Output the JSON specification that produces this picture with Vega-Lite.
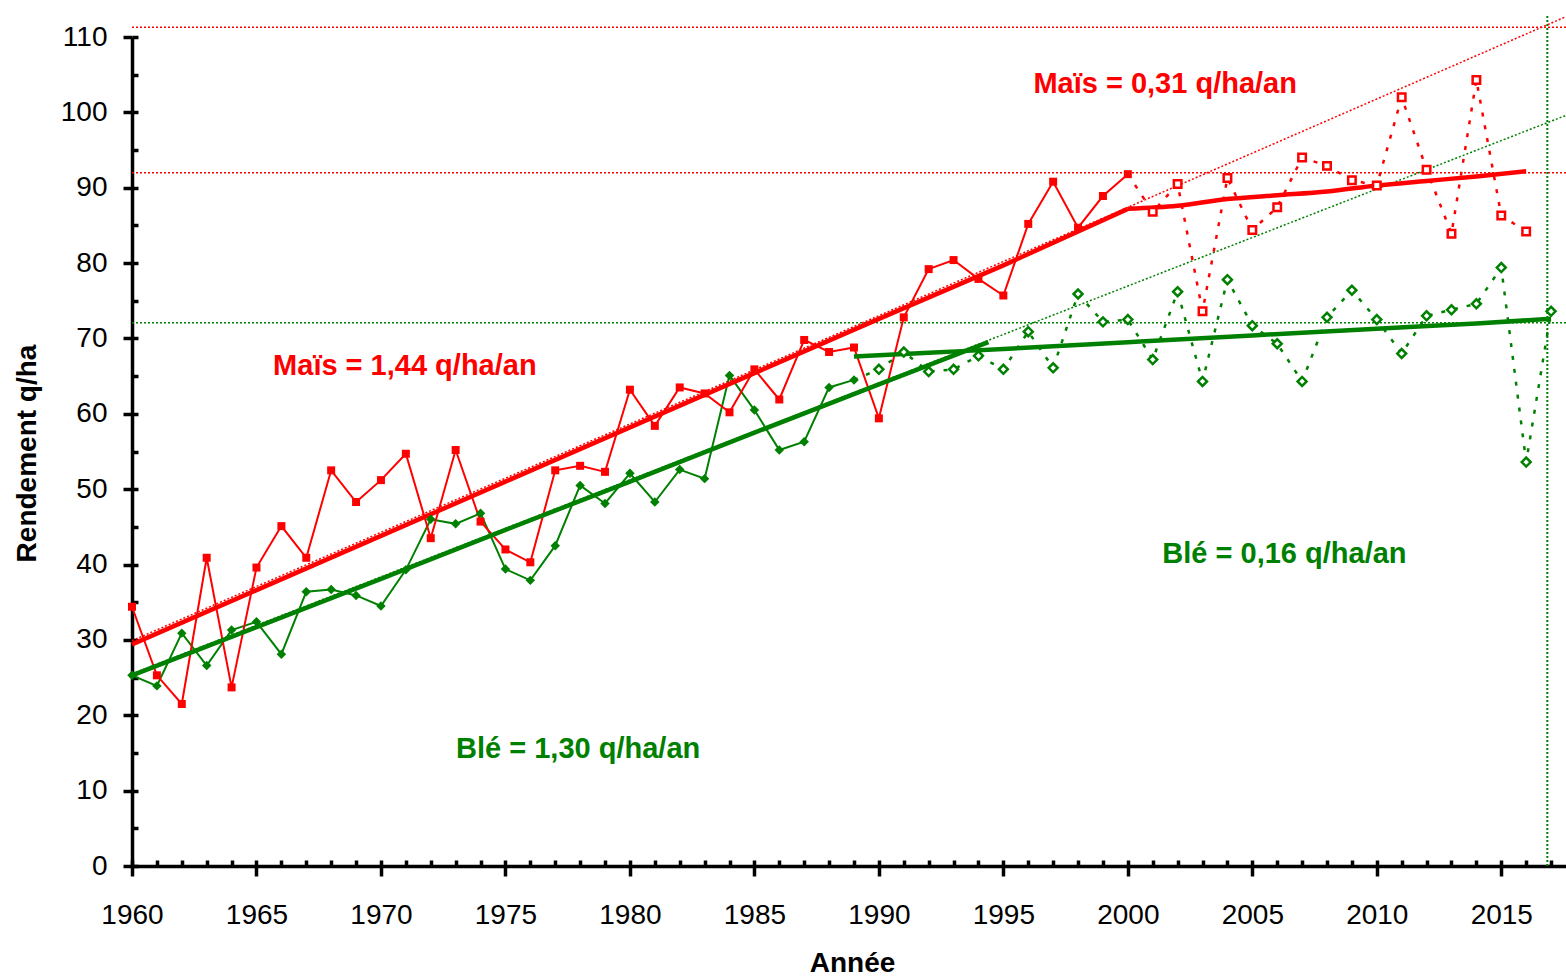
{
  "$schema": "https://vega.github.io/schema/vega-lite/v6.json",
  "width": 1434,
  "height": 829,
  "autosize": {"type": "none"},
  "padding": {"left": 132, "top": 37, "right": 0, "bottom": 111},
  "background": "white",
  "config": {"view": {"stroke": null}, "font": "Liberation Sans"},
  "datasets": {
    "obs": [
      {"crop": "Maïs", "year": 1960, "value": 34.4}, {"crop": "Maïs", "year": 1961, "value": 25.3},
      {"crop": "Maïs", "year": 1962, "value": 21.5}, {"crop": "Maïs", "year": 1963, "value": 40.9},
      {"crop": "Maïs", "year": 1964, "value": 23.7}, {"crop": "Maïs", "year": 1965, "value": 39.6},
      {"crop": "Maïs", "year": 1966, "value": 45.1}, {"crop": "Maïs", "year": 1967, "value": 40.9},
      {"crop": "Maïs", "year": 1968, "value": 52.5}, {"crop": "Maïs", "year": 1969, "value": 48.3},
      {"crop": "Maïs", "year": 1970, "value": 51.2}, {"crop": "Maïs", "year": 1971, "value": 54.7},
      {"crop": "Maïs", "year": 1972, "value": 43.5}, {"crop": "Maïs", "year": 1973, "value": 55.2},
      {"crop": "Maïs", "year": 1974, "value": 45.7}, {"crop": "Maïs", "year": 1975, "value": 42.0},
      {"crop": "Maïs", "year": 1976, "value": 40.3}, {"crop": "Maïs", "year": 1977, "value": 52.5},
      {"crop": "Maïs", "year": 1978, "value": 53.1}, {"crop": "Maïs", "year": 1979, "value": 52.3},
      {"crop": "Maïs", "year": 1980, "value": 63.2}, {"crop": "Maïs", "year": 1981, "value": 58.4},
      {"crop": "Maïs", "year": 1982, "value": 63.5}, {"crop": "Maïs", "year": 1983, "value": 62.7},
      {"crop": "Maïs", "year": 1984, "value": 60.2}, {"crop": "Maïs", "year": 1985, "value": 65.9},
      {"crop": "Maïs", "year": 1986, "value": 61.9}, {"crop": "Maïs", "year": 1987, "value": 69.8},
      {"crop": "Maïs", "year": 1988, "value": 68.2}, {"crop": "Maïs", "year": 1989, "value": 68.8},
      {"crop": "Maïs", "year": 1990, "value": 59.4}, {"crop": "Maïs", "year": 1991, "value": 72.8},
      {"crop": "Maïs", "year": 1992, "value": 79.2}, {"crop": "Maïs", "year": 1993, "value": 80.4},
      {"crop": "Maïs", "year": 1994, "value": 77.9}, {"crop": "Maïs", "year": 1995, "value": 75.7},
      {"crop": "Maïs", "year": 1996, "value": 85.2}, {"crop": "Maïs", "year": 1997, "value": 90.8},
      {"crop": "Maïs", "year": 1998, "value": 84.7}, {"crop": "Maïs", "year": 1999, "value": 88.9},
      {"crop": "Maïs", "year": 2000, "value": 91.8}, {"crop": "Maïs", "year": 2001, "value": 86.8},
      {"crop": "Maïs", "year": 2002, "value": 90.5}, {"crop": "Maïs", "year": 2003, "value": 73.6},
      {"crop": "Maïs", "year": 2004, "value": 91.3}, {"crop": "Maïs", "year": 2005, "value": 84.4},
      {"crop": "Maïs", "year": 2006, "value": 87.4}, {"crop": "Maïs", "year": 2007, "value": 94.0},
      {"crop": "Maïs", "year": 2008, "value": 92.9}, {"crop": "Maïs", "year": 2009, "value": 91.0},
      {"crop": "Maïs", "year": 2010, "value": 90.3}, {"crop": "Maïs", "year": 2011, "value": 102.0},
      {"crop": "Maïs", "year": 2012, "value": 92.4}, {"crop": "Maïs", "year": 2013, "value": 83.9},
      {"crop": "Maïs", "year": 2014, "value": 104.3}, {"crop": "Maïs", "year": 2015, "value": 86.3},
      {"crop": "Maïs", "year": 2016, "value": 84.2},
      {"crop": "Blé", "year": 1960, "value": 25.3}, {"crop": "Blé", "year": 1961, "value": 23.9},
      {"crop": "Blé", "year": 1962, "value": 30.9}, {"crop": "Blé", "year": 1963, "value": 26.6},
      {"crop": "Blé", "year": 1964, "value": 31.3}, {"crop": "Blé", "year": 1965, "value": 32.4},
      {"crop": "Blé", "year": 1966, "value": 28.1}, {"crop": "Blé", "year": 1967, "value": 36.4},
      {"crop": "Blé", "year": 1968, "value": 36.7}, {"crop": "Blé", "year": 1969, "value": 35.9},
      {"crop": "Blé", "year": 1970, "value": 34.5}, {"crop": "Blé", "year": 1971, "value": 39.3},
      {"crop": "Blé", "year": 1972, "value": 46.0}, {"crop": "Blé", "year": 1973, "value": 45.4},
      {"crop": "Blé", "year": 1974, "value": 46.8}, {"crop": "Blé", "year": 1975, "value": 39.4},
      {"crop": "Blé", "year": 1976, "value": 37.9}, {"crop": "Blé", "year": 1977, "value": 42.5},
      {"crop": "Blé", "year": 1978, "value": 50.5}, {"crop": "Blé", "year": 1979, "value": 48.1},
      {"crop": "Blé", "year": 1980, "value": 52.1}, {"crop": "Blé", "year": 1981, "value": 48.3},
      {"crop": "Blé", "year": 1982, "value": 52.6}, {"crop": "Blé", "year": 1983, "value": 51.4},
      {"crop": "Blé", "year": 1984, "value": 65.1}, {"crop": "Blé", "year": 1985, "value": 60.5},
      {"crop": "Blé", "year": 1986, "value": 55.2}, {"crop": "Blé", "year": 1987, "value": 56.3},
      {"crop": "Blé", "year": 1988, "value": 63.5}, {"crop": "Blé", "year": 1989, "value": 64.5},
      {"crop": "Blé", "year": 1990, "value": 65.9}, {"crop": "Blé", "year": 1991, "value": 68.2},
      {"crop": "Blé", "year": 1992, "value": 65.6}, {"crop": "Blé", "year": 1993, "value": 65.9},
      {"crop": "Blé", "year": 1994, "value": 67.7}, {"crop": "Blé", "year": 1995, "value": 65.9},
      {"crop": "Blé", "year": 1996, "value": 70.9}, {"crop": "Blé", "year": 1997, "value": 66.1},
      {"crop": "Blé", "year": 1998, "value": 75.9}, {"crop": "Blé", "year": 1999, "value": 72.2},
      {"crop": "Blé", "year": 2000, "value": 72.5}, {"crop": "Blé", "year": 2001, "value": 67.2},
      {"crop": "Blé", "year": 2002, "value": 76.2}, {"crop": "Blé", "year": 2003, "value": 64.3},
      {"crop": "Blé", "year": 2004, "value": 77.8}, {"crop": "Blé", "year": 2005, "value": 71.7},
      {"crop": "Blé", "year": 2006, "value": 69.3}, {"crop": "Blé", "year": 2007, "value": 64.3},
      {"crop": "Blé", "year": 2008, "value": 72.8}, {"crop": "Blé", "year": 2009, "value": 76.4},
      {"crop": "Blé", "year": 2010, "value": 72.5}, {"crop": "Blé", "year": 2011, "value": 68.0},
      {"crop": "Blé", "year": 2012, "value": 73.0}, {"crop": "Blé", "year": 2013, "value": 73.8},
      {"crop": "Blé", "year": 2014, "value": 74.6}, {"crop": "Blé", "year": 2015, "value": 79.4},
      {"crop": "Blé", "year": 2016, "value": 53.6}, {"crop": "Blé", "year": 2017, "value": 73.6}
    ],
    "trends": [
      {"line": "m1", "year": 1960, "value": 29.4}, {"line": "m1", "year": 1965, "value": 36.6},
      {"line": "m1", "year": 1970, "value": 43.8}, {"line": "m1", "year": 1975, "value": 51.0},
      {"line": "m1", "year": 1980, "value": 58.2}, {"line": "m1", "year": 1985, "value": 65.4},
      {"line": "m1", "year": 1990, "value": 72.6}, {"line": "m1", "year": 1995, "value": 79.7},
      {"line": "m1", "year": 2000, "value": 87.2},
      {"line": "m2", "year": 2000, "value": 87.2}, {"line": "m2", "year": 2002, "value": 87.6},
      {"line": "m2", "year": 2004, "value": 88.5}, {"line": "m2", "year": 2006, "value": 89.0},
      {"line": "m2", "year": 2008, "value": 89.5}, {"line": "m2", "year": 2010, "value": 90.3},
      {"line": "m2", "year": 2012, "value": 90.9}, {"line": "m2", "year": 2014, "value": 91.5},
      {"line": "m2", "year": 2016, "value": 92.2},
      {"line": "g1", "year": 1960, "value": 25.3}, {"line": "g1", "year": 1965, "value": 31.7},
      {"line": "g1", "year": 1970, "value": 38.1}, {"line": "g1", "year": 1975, "value": 44.6},
      {"line": "g1", "year": 1980, "value": 51.0}, {"line": "g1", "year": 1985, "value": 57.5},
      {"line": "g1", "year": 1990, "value": 63.9}, {"line": "g1", "year": 1994.4, "value": 69.5},
      {"line": "g2", "year": 1989, "value": 67.6}, {"line": "g2", "year": 1992, "value": 68.1},
      {"line": "g2", "year": 1995, "value": 68.6}, {"line": "g2", "year": 2000, "value": 69.5},
      {"line": "g2", "year": 2005, "value": 70.4}, {"line": "g2", "year": 2010, "value": 71.3},
      {"line": "g2", "year": 2014, "value": 72.0}, {"line": "g2", "year": 2017, "value": 72.6},
      {"line": "mx", "year": 1960, "value": 29.9}, {"line": "mx", "year": 2017.6, "value": 112.7},
      {"line": "gx", "year": 1960, "value": 25.5}, {"line": "gx", "year": 2017.6, "value": 99.6}
    ],
    "hrefs": [
      {"c": "m", "v": 111.3, "x1": 1960, "x2": 2017.6},
      {"c": "m", "v": 92.0, "x1": 1960, "x2": 2017.6},
      {"c": "g", "v": 72.1, "x1": 1960, "x2": 2017.6}
    ],
    "vrefs": [
      {"x": 2016.85, "y1": 0, "y2": 112.8}
    ],
    "labels": [
      {"crop": "Maïs", "year": 1970.96, "value": 65.15, "text": "Maïs = 1,44 q/ha/an"},
      {"crop": "Maïs", "year": 2001.5, "value": 102.6, "text": "Maïs = 0,31 q/ha/an"},
      {"crop": "Blé", "year": 1977.92, "value": 14.3, "text": "Blé = 1,30 q/ha/an"},
      {"crop": "Blé", "year": 2006.29, "value": 40.2, "text": "Blé = 0,16 q/ha/an"}
    ]
  },
  "resolve": {"axis": {"x": "independent", "y": "independent"}},
  "layer": [
    {
      "data": {"name": "hrefs"},
      "transform": [{"filter": "datum.c === 'm'"}],
      "mark": {"type": "rule", "color": "#ff0000", "strokeWidth": 1.5, "strokeDash": [2, 2], "clip": false},
      "encoding": {
        "x": {"field": "x1", "type": "quantitative",
          "scale": {"domain": [1960, 2017.6], "nice": false, "zero": false},
          "axis": {"orient": "bottom", "values": [1960, 1965, 1970, 1975, 1980, 1985, 1990, 1995, 2000, 2005, 2010, 2015],
            "format": "d", "tickSize": 10, "tickWidth": 3.5, "tickColor": "black", "domainWidth": 3.5, "domainColor": "black",
            "grid": false, "labelFont": "Liberation Sans", "labelFontSize": 28, "labelColor": "black", "labelPadding": 25,
            "labelFlush": false, "labelOverlap": false,
            "title": "Année", "titleFont": "Liberation Sans", "titleFontSize": 28, "titleFontWeight": "bold", "titleColor": "black",
            "titleX": 720, "titleY": 97, "titleAlign": "center", "titleBaseline": "middle", "titleAnchor": null}},
        "x2": {"field": "x2"},
        "y": {"field": "v", "type": "quantitative",
          "scale": {"domain": [0, 110], "nice": false, "zero": true},
          "axis": {"orient": "left", "values": [0, 10, 20, 30, 40, 50, 60, 70, 80, 90, 100, 110],
            "tickSize": 9, "tickWidth": 3.5, "tickColor": "black", "domainWidth": 3.5, "domainColor": "black",
            "grid": false, "labelFont": "Liberation Sans", "labelFontSize": 28, "labelColor": "black", "labelPadding": 16,
            "labelFlush": false, "labelOverlap": false,
            "title": "Rendement q/ha", "titleFont": "Liberation Sans", "titleFontSize": 28, "titleFontWeight": "bold", "titleColor": "black",
            "titleX": -105, "titleY": 416, "titleAngle": -90, "titleAlign": "center", "titleBaseline": "middle", "titleAnchor": null}}
      }
    },
    {
      "data": {"name": "vrefs"},
      "mark": {"type": "rule", "color": "#008000", "strokeWidth": 2, "strokeDash": [2, 2], "clip": false},
      "encoding": {
        "x": {"field": "x", "type": "quantitative",
          "axis": {"orient": "bottom", "values": [1960, 1961, 1962, 1963, 1964, 1965, 1966, 1967, 1968, 1969, 1970, 1971, 1972, 1973, 1974, 1975, 1976, 1977, 1978, 1979, 1980, 1981, 1982, 1983, 1984, 1985, 1986, 1987, 1988, 1989, 1990, 1991, 1992, 1993, 1994, 1995, 1996, 1997, 1998, 1999, 2000, 2001, 2002, 2003, 2004, 2005, 2006, 2007, 2008, 2009, 2010, 2011, 2012, 2013, 2014, 2015, 2016, 2017],
            "tickSize": -6, "tickWidth": 3.5, "tickColor": "black", "domain": false, "labels": false, "grid": false, "title": null}},
        "y": {"field": "y1", "type": "quantitative",
          "axis": {"orient": "left", "values": [0, 5, 10, 15, 20, 25, 30, 35, 40, 45, 50, 55, 60, 65, 70, 75, 80, 85, 90, 95, 100, 105, 110],
            "tickSize": -6, "tickWidth": 3.5, "tickColor": "black", "domain": false, "labels": false, "grid": false, "title": null}},
        "y2": {"field": "y2"}
      }
    },
    {
      "data": {"name": "hrefs"},
      "transform": [{"filter": "datum.c === 'g'"}],
      "mark": {"type": "rule", "color": "#008000", "strokeWidth": 1.5, "strokeDash": [2, 2], "clip": false},
      "encoding": {
        "x": {"field": "x1", "type": "quantitative", "axis": null},
        "x2": {"field": "x2"},
        "y": {"field": "v", "type": "quantitative", "axis": null}
      }
    },
    {
      "data": {"name": "trends"},
      "transform": [{"filter": "datum.line === 'mx'"}],
      "mark": {"type": "line", "color": "#ff0000", "strokeWidth": 1.5, "strokeDash": [2, 2], "clip": false},
      "encoding": {
        "x": {"field": "year", "type": "quantitative", "axis": null},
        "y": {"field": "value", "type": "quantitative", "axis": null}
      }
    },
    {
      "data": {"name": "trends"},
      "transform": [{"filter": "datum.line === 'gx'"}],
      "mark": {"type": "line", "color": "#008000", "strokeWidth": 1.5, "strokeDash": [2, 2], "clip": false},
      "encoding": {
        "x": {"field": "year", "type": "quantitative", "axis": null},
        "y": {"field": "value", "type": "quantitative", "axis": null}
      }
    },
    {
      "data": {"name": "obs"},
      "transform": [{"filter": "datum.crop === 'Blé' && datum.year >= 1989"}],
      "mark": {"type": "line", "color": "#008000", "strokeWidth": 2.5, "strokeDash": [4, 9]},
      "encoding": {
        "x": {"field": "year", "type": "quantitative", "axis": null},
        "y": {"field": "value", "type": "quantitative", "axis": null}
      }
    },
    {
      "data": {"name": "obs"},
      "transform": [{"filter": "datum.crop === 'Maïs' && datum.year >= 2000"}],
      "mark": {"type": "line", "color": "#ff0000", "strokeWidth": 2.5, "strokeDash": [4, 9]},
      "encoding": {
        "x": {"field": "year", "type": "quantitative", "axis": null},
        "y": {"field": "value", "type": "quantitative", "axis": null}
      }
    },
    {
      "data": {"name": "obs"},
      "transform": [{"filter": "datum.crop === 'Blé' && datum.year <= 1989"}],
      "mark": {"type": "line", "color": "#008000", "strokeWidth": 2},
      "encoding": {
        "x": {"field": "year", "type": "quantitative", "axis": null},
        "y": {"field": "value", "type": "quantitative", "axis": null}
      }
    },
    {
      "data": {"name": "obs"},
      "transform": [{"filter": "datum.crop === 'Maïs' && datum.year <= 2000"}],
      "mark": {"type": "line", "color": "#ff0000", "strokeWidth": 2},
      "encoding": {
        "x": {"field": "year", "type": "quantitative", "axis": null},
        "y": {"field": "value", "type": "quantitative", "axis": null}
      }
    },
    {
      "data": {"name": "trends"},
      "transform": [{"filter": "datum.line === 'g1'"}],
      "mark": {"type": "line", "color": "#008000", "strokeWidth": 4.5},
      "encoding": {
        "x": {"field": "year", "type": "quantitative", "axis": null},
        "y": {"field": "value", "type": "quantitative", "axis": null}
      }
    },
    {
      "data": {"name": "trends"},
      "transform": [{"filter": "datum.line === 'g2'"}],
      "mark": {"type": "line", "color": "#008000", "strokeWidth": 4.5, "interpolate": "monotone"},
      "encoding": {
        "x": {"field": "year", "type": "quantitative", "axis": null},
        "y": {"field": "value", "type": "quantitative", "axis": null}
      }
    },
    {
      "data": {"name": "trends"},
      "transform": [{"filter": "datum.line === 'm1'"}],
      "mark": {"type": "line", "color": "#ff0000", "strokeWidth": 4.5},
      "encoding": {
        "x": {"field": "year", "type": "quantitative", "axis": null},
        "y": {"field": "value", "type": "quantitative", "axis": null}
      }
    },
    {
      "data": {"name": "trends"},
      "transform": [{"filter": "datum.line === 'm2'"}],
      "mark": {"type": "line", "color": "#ff0000", "strokeWidth": 4.5, "interpolate": "monotone"},
      "encoding": {
        "x": {"field": "year", "type": "quantitative", "axis": null},
        "y": {"field": "value", "type": "quantitative", "axis": null}
      }
    },
    {
      "data": {"name": "obs"},
      "transform": [{"filter": "datum.crop === 'Blé' && datum.year <= 1989"}],
      "mark": {"type": "point", "shape": "diamond", "size": 90, "filled": true, "color": "#008000", "opacity": 1},
      "encoding": {
        "x": {"field": "year", "type": "quantitative", "axis": null},
        "y": {"field": "value", "type": "quantitative", "axis": null}
      }
    },
    {
      "data": {"name": "obs"},
      "transform": [{"filter": "datum.crop === 'Blé' && datum.year > 1989"}],
      "mark": {"type": "point", "shape": "diamond", "size": 80, "filled": true, "fill": "white", "stroke": "#008000", "strokeWidth": 2.5, "opacity": 1},
      "encoding": {
        "x": {"field": "year", "type": "quantitative", "axis": null},
        "y": {"field": "value", "type": "quantitative", "axis": null}
      }
    },
    {
      "data": {"name": "obs"},
      "transform": [{"filter": "datum.crop === 'Maïs' && datum.year <= 2000"}],
      "mark": {"type": "point", "shape": "square", "size": 64, "filled": true, "color": "#ff0000", "opacity": 1},
      "encoding": {
        "x": {"field": "year", "type": "quantitative", "axis": null},
        "y": {"field": "value", "type": "quantitative", "axis": null}
      }
    },
    {
      "data": {"name": "obs"},
      "transform": [{"filter": "datum.crop === 'Maïs' && datum.year > 2000"}],
      "mark": {"type": "point", "shape": "square", "size": 56, "filled": true, "fill": "white", "stroke": "#ff0000", "strokeWidth": 2.5, "opacity": 1},
      "encoding": {
        "x": {"field": "year", "type": "quantitative", "axis": null},
        "y": {"field": "value", "type": "quantitative", "axis": null}
      }
    },
    {
      "data": {"name": "labels"},
      "mark": {"type": "text", "font": "Liberation Sans", "fontSize": 29, "fontWeight": "bold", "align": "center", "baseline": "alphabetic"},
      "encoding": {
        "x": {"field": "year", "type": "quantitative", "axis": null},
        "y": {"field": "value", "type": "quantitative", "axis": null},
        "text": {"field": "text"},
        "color": {"field": "crop", "type": "nominal", "scale": {"domain": ["Maïs", "Blé"], "range": ["#ff0000", "#008000"]}, "legend": null}
      }
    }
  ]
}
